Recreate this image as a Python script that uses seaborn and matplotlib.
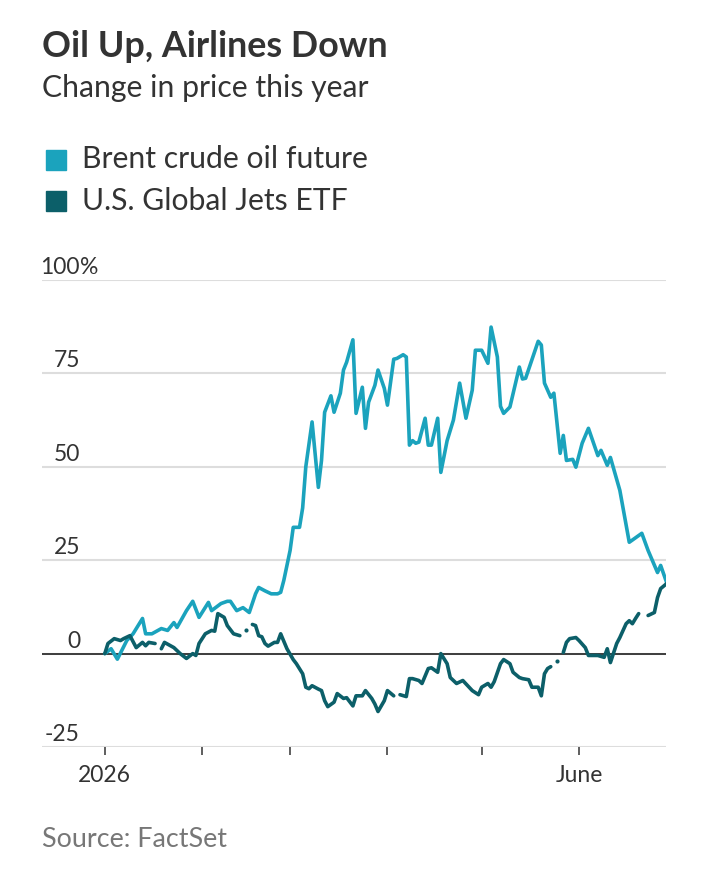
import numpy as np
import pandas as pd
import seaborn as sns
import matplotlib.pyplot as plt
import matplotlib.transforms as mtransforms
from matplotlib.patches import Rectangle

# data: days since Jan 1 2026, % change
brent_days = [0, 2, 4, 7, 9, 12, 13, 15, 18, 20, 22, 23, 25, 26, 28, 30, 33, 34, 37, 39,
              40, 42, 44, 46, 48, 49, 51, 53, 55, 56, 57, 59, 60, 62, 63, 64, 66, 68, 69, 70,
              72, 73, 75, 76, 77, 79, 80, 82, 83, 84, 86, 87, 89, 90, 92, 93, 95, 96, 97, 98,
              99, 100, 102, 103, 104, 106, 107, 109, 111, 113, 115, 117, 118, 120, 122, 123, 125, 126, 127, 129,
              132, 133, 134, 138, 139, 140, 142, 143, 145, 146, 147, 149, 150, 152, 154, 157, 158, 160, 161, 164,
              167, 171, 173, 176, 177, 179]
brent_vals = [0, 1.3, -1.5, 3.5, 5.3, 9.4, 5.3, 5.3, 6.7, 6.2, 8.3, 7, 10, 11.5, 14, 9.7, 13.7, 11.5, 13.4, 14,
              14, 11.5, 12.3, 11, 16, 17.7, 16.8, 16, 16, 16.4, 19.6, 27.6, 33.8, 33.8, 39, 50, 62, 44.5, 51.7, 64.6,
              69, 64.6, 69.7, 75.9, 78, 84, 64.3, 71.3, 60.3, 67.3, 71.8, 75.9, 71, 66.5, 78.8, 79, 80, 79.4, 55.8, 57,
              56.3, 56.6, 63, 55.8, 55.8, 63, 48.5, 57, 62.5, 72.4, 63, 70.5, 81.2, 81.2, 77.7, 87.4, 79.4, 66.2, 64.3, 66,
              76.7, 73.5, 73.7, 83.6, 82.6, 72.4, 68.6, 69.7, 53.6, 58.4, 51.7, 52, 49.9, 56.3, 60.3, 53, 54.4, 50.4, 52.5, 43.7,
              29.8, 32.2, 27.6, 21.7, 23.6, 18.8]

# nan = no data (gap in the line)
jets_days = [0, 1, 3, 5, 6, 8, 10, 12, 13, 14, 16, 17, 18, 19, 22, 24, 26, 28, 29, 30,
             32, 34, 35, 36, 38, 39, 41, 43, 44, 45, 46, 47, 48, 49, 50, 51, 52, 54, 55, 56,
             58, 60, 61, 63, 64, 65, 66, 68, 69, 70, 71, 73, 74, 76, 77, 79, 80, 82, 83, 85,
             86, 87, 89, 90, 92, 93, 94, 96, 97, 98, 100, 101, 103, 104, 106, 107, 109, 110, 112, 113,
             114, 116, 117, 119, 120, 122, 123, 124, 126, 127, 129, 130, 132, 133, 135, 136, 138, 139, 140, 141,
             142, 143, 144, 145, 146, 147, 148, 150, 151, 153, 154, 156, 157, 159, 160, 161, 163, 164, 166, 167,
             168, 169, 170, 171, 173, 175, 176, 177, 179]
jets_vals = [0, 2.7, 4, 3.5, 4, 4.8, 1.6, 3, 2.1, 3, 2.7, np.nan, 1.3, 3, 1.6, 0, -1.3, 0, -0.5, 2.7,
             5.3, 6.2, 6, 10.7, 9.7, 7.5, 5.3, 4.8, np.nan, 6.4, np.nan, 7.8, 7.5, 4.8, 4.5, 2.7, 2, 3, 3, 5.3,
             1.3, -1.6, -2.7, -5.4, -9, -9.4, -8.6, -9.5, -9.9, -12.6, -14.2, -13, -10.7, -12, -11.8, -14, -11.3, -11.3, -9.9, -12,
             -13.5, -15.5, -12.6, -9.9, -11.3, np.nan, -11, -11.5, -6.7, -6.7, -7.2, -8, -4, -3.8, -5, 0, -2.7, -6.4, -8, -7.6,
             -7.2, -9, -9.9, -11, -9, -8, -9, -7.5, -2.7, -1.6, -2.7, -5, -6.4, -6.7, -7, -9, -9, -11.3, -5.4, -4,
             -3.5, np.nan, -2.1, np.nan, 0.3, 3, 4, 4.3, 3.5, 1.6, -0.5, -0.5, -0.5, -1, 1.3, -2.4, 2.7, 4.3, 8, 8.8,
             8, 9.4, 10.7, np.nan, 10.2, 11, 15, 17.4, 18.8]

series_names = ['Brent crude oil future', 'U.S. Global Jets ETF']
colors = ['#1ba3bd', '#0c5f69']
yticks = [-25, 0, 25, 50, 75, 100]
month_ticks = ['2026-01-01', '2026-02-01', '2026-03-01', '2026-04-01', '2026-05-01', '2026-06-01']
month_labels = ['2026', '', '', '', '', 'June']

start = pd.Timestamp('2026-01-01')


def to_frame(days, vals):
    df = pd.DataFrame({'day': days, 'value': vals})
    df['date'] = start + pd.to_timedelta(df['day'], unit='D')
    df['seg'] = df['value'].isna().cumsum()
    return df.dropna()


brent = to_frame(brent_days, brent_vals)
jets = to_frame(jets_days, jets_vals)

sns.set_theme(style='white')
plt.rcParams['font.family'] = ['Lato', 'DejaVu Sans']
text_col = '#333333'

W, H = 710, 888
fig = plt.figure(figsize=(W / 100, H / 100), dpi=100)
ax = fig.add_axes([42 / W, 1 - 747 / H, 624 / W, 467 / H])

ax.set_ylim(-25, 100)
ax.set_xlim(start - pd.Timedelta(days=20), start + pd.Timedelta(days=178.7))
ax.set_yticks(yticks)
ax.yaxis.grid(True, color='#dddddd', lw=1.5)
ax.tick_params(axis='y', length=0, labelleft=False)
ax.axhline(0, color='#222222', lw=1.2, zorder=2)

sns.lineplot(data=brent, x='date', y='value', units='seg', estimator=None,
             color=colors[0], lw=2.6, ax=ax, zorder=3)
sns.lineplot(data=jets, x='date', y='value', units='seg', estimator=None,
             color=colors[1], lw=2.6, ax=ax, zorder=4)
# single points between gaps
lone = jets[jets.groupby('seg')['value'].transform('size') == 1]
sns.scatterplot(data=lone, x='date', y='value', color=colors[1], s=9,
                linewidth=0, ax=ax, zorder=4)

for s in ax.spines.values():
    s.set_visible(False)

ax.set_xticks(pd.to_datetime(month_ticks))
ax.set_xticklabels(month_labels)
ax.tick_params(axis='x', length=5.8, width=1.1, color='#333333', pad=7,
               labelsize=16.5, labelcolor=text_col, bottom=True)
ax.set_xlabel('')
ax.set_ylabel('')

# y labels sit above the gridlines
trans = mtransforms.blended_transform_factory(ax.transAxes, ax.transData)
trans = mtransforms.offset_copy(trans, fig=fig, y=6, units='dots')
lx = 38 / 624
for v in yticks:
    ax.text(lx, v, str(v), transform=trans, ha='right', va='baseline',
            fontsize=16.5, color=text_col)
ax.text(lx, 100, '%', transform=trans, ha='left', va='baseline',
        fontsize=16.5, color=text_col)

fig.text(42 / W, 1 - 57 / H, 'Oil Up, Airlines Down', fontsize=25.8,
         fontweight='bold', color=text_col, va='baseline')
fig.text(42 / W, 1 - 97 / H, 'Change in price this year', fontsize=21.7,
         color=text_col, va='baseline')

for i, name in enumerate(series_names):
    top = 150 + i * 41.5
    fig.add_artist(Rectangle((46 / W, 1 - (top + 20) / H), 20 / W, 20 / H,
                             transform=fig.transFigure, color=colors[i]))
    fig.text(82 / W, 1 - (top + 18) / H, name, fontsize=21.7, color=text_col,
             va='baseline')

fig.text(42 / W, 1 - 847 / H, 'Source: FactSet', fontsize=19.4,
         color='#777777', va='baseline')

fig.savefig('out.png', dpi=100)
